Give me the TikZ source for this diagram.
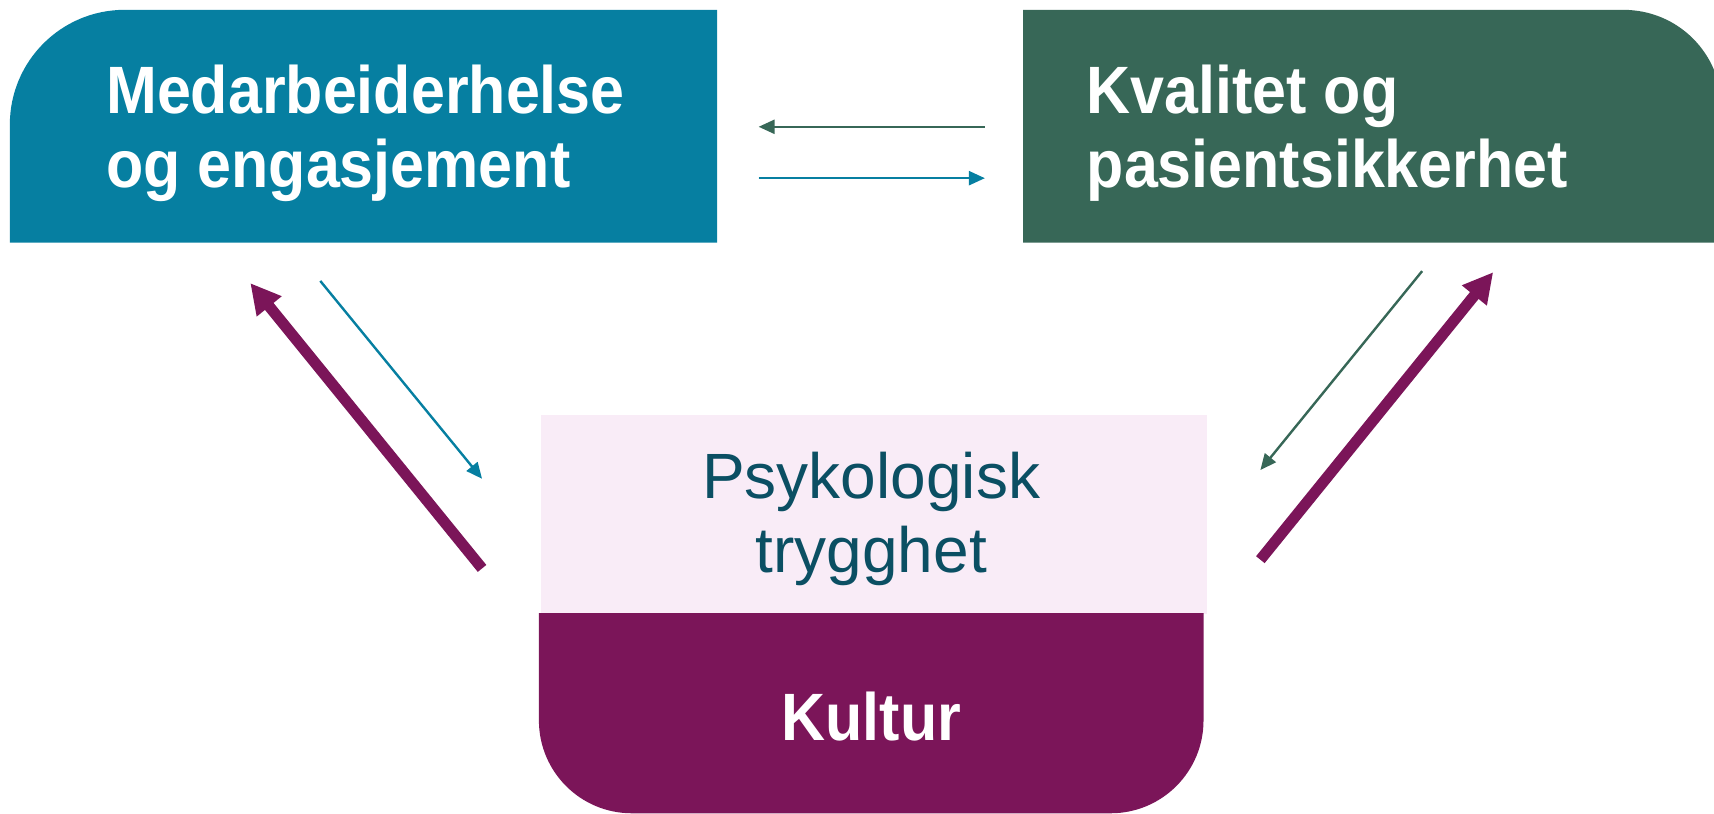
\documentclass[tikz,border=0pt]{standalone}
\usepackage{fontspec}
\setmainfont{Liberation Sans}
\newfontfamily\headfont{Liberation Sans}[FakeStretch=0.91]
\usetikzlibrary{arrows.meta}
\definecolor{medblue}{HTML}{067FA1}
\definecolor{qgreen}{HTML}{376757}
\definecolor{kpurple}{HTML}{7B1559}
\definecolor{ppink}{HTML}{F9ECF7}
\definecolor{pteal}{HTML}{0B4F63}
\begin{document}
\begin{tikzpicture}[x=1.0931pt,y=-1.0931pt,
  headtext/.style={text=white,font=\headfont\bfseries\fontsize{67}{74.3}\selectfont,inner sep=0pt,align=left},
  psytext/.style={text=pteal,font=\fontsize{64}{74.3}\selectfont,inner sep=0pt,align=center},
  thinarrow/.style={line width=2.4pt,-{Triangle[length=16pt,width=14pt]}},
  thickarrow/.style={line width=11pt,draw=kpurple,-{Triangle[length=30pt,width=30pt]}}]
\path[use as bounding box] (0,0) rectangle (1568,744);
\clip (0,0) rectangle (1568,744);
% boxes
\fill[medblue] (9,222) -- (9,114) .. controls (9,56) and (56,9) .. (114,9) -- (656,9) -- (656,222) -- cycle;
\fill[qgreen] (936,222) -- (936,9) -- (1485,9) .. controls (1535,9) and (1575,49) .. (1575,99) -- (1575,222) -- cycle;
\fill[ppink] (495,380) rectangle (1104,562);
\fill[kpurple] (493,561) -- (1101,561) -- (1101,659) .. controls (1101,706) and (1063,744) .. (1016,744) -- (578,744) .. controls (531,744) and (493,706) .. (493,659) -- cycle;
% texts
\node[headtext,anchor=north west] (med) at (97,59) {Medarbeiderhelse\\og engasjement};
\node[headtext,anchor=north west] (kval) at (994,59) {Kvalitet og\\pasientsikkerhet};
\node[psytext,anchor=north] (psy) at (797,413) {Psykologisk\\trygghet};
\node[headtext,anchor=base] (kultur) at (797,677) {Kultur};
% arrow end points
\coordinate (h1s) at (901,116); \coordinate (h1e) at (694,116);
\coordinate (h2s) at (694,163); \coordinate (h2e) at (901,163);
\coordinate (l1s) at (293,257); \coordinate (l1e) at (441,438);
\coordinate (l2s) at (441,520); \coordinate (l2e) at (229,259);
\coordinate (r1s) at (1301,248); \coordinate (r1e) at (1153,430);
\coordinate (r2s) at (1153,512); \coordinate (r2e) at (1366,249);
% arrows
\draw[thinarrow,draw=qgreen,fill=qgreen] (h1s) -- (h1e);
\draw[thinarrow,draw=medblue,fill=medblue] (h2s) -- (h2e);
\draw[thinarrow,draw=medblue,fill=medblue] (l1s) -- (l1e);
\draw[thickarrow] (l2s) -- (l2e);
\draw[thinarrow,draw=qgreen,fill=qgreen] (r1s) -- (r1e);
\draw[thickarrow] (r2s) -- (r2e);
\end{tikzpicture}
\end{document}
